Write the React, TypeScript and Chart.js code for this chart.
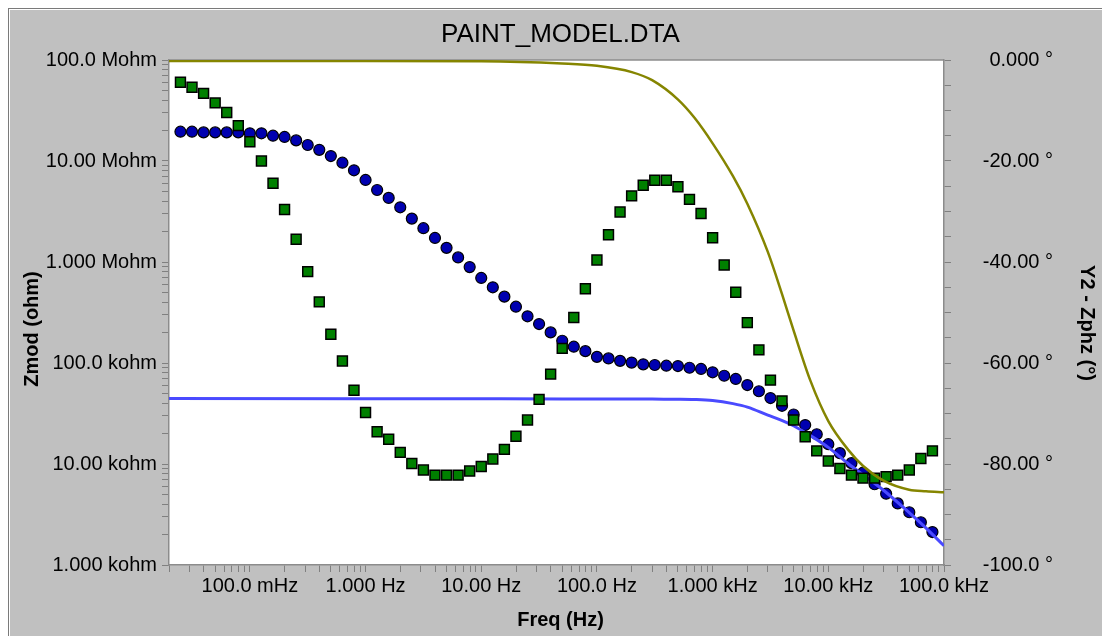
import React, { useEffect, useRef } from 'react';
import { Chart, registerables } from 'chart.js';

Chart.register(...registerables);

// Measured impedance spectrum (10 points per decade)
const frequencyHz = [
  0.02512, 0.03162, 0.03981, 0.05012, 0.0631, 0.07943,
  0.1, 0.1259, 0.1585, 0.1995, 0.2512, 0.3162, 0.3981, 0.5012, 0.631, 0.7943,
  1, 1.259, 1.585, 1.995, 2.512, 3.162, 3.981, 5.012, 6.31, 7.943,
  10, 12.59, 15.85, 19.95, 25.12, 31.62, 39.81, 50.12, 63.1, 79.43,
  100, 125.9, 158.5, 199.5, 251.2, 316.2, 398.1, 501.2, 631, 794.3,
  1000, 1259, 1585, 1995, 2512, 3162, 3981, 5012, 6310, 7943,
  10000, 12590, 15850, 19950, 25120, 31620, 39810, 50120, 63100, 79430,
];

const zmodOhm = [
  19.5e6, 19.5e6, 19.2e6, 19.2e6, 19.2e6, 19.2e6, 18.8e6, 18.8e6, 17.8e6, 17.3e6,
  16.0e6, 14.4e6, 12.9e6, 11.2e6, 9.62e6, 8.09e6, 6.49e6, 5.16e6, 4.31e6, 3.48e6,
  2.69e6, 2.16e6, 1.73e6, 1.38e6, 1.11e6, 891e3, 695e3, 562e3, 454e3, 361e3,
  290e3, 243e3, 201e3, 166e3, 145e3, 131e3, 115e3, 111e3, 105e3, 101e3,
  97.0e3, 95.5e3, 94.0e3, 93.3e3, 89.7e3, 87.3e3, 80.9e3, 74.8e3, 69.5e3, 60.5e3,
  52.5e3, 45.0e3, 37.7e3, 30.9e3, 24.3e3, 19.7e3, 15.7e3, 12.8e3, 10.2e3, 8.20e3,
  6.30e3, 5.08e3, 4.07e3, 3.33e3, 2.65e3, 2.12e3,
];

const zphzDeg = [
  -4.4, -5.4, -6.6, -8.5, -10.4, -13.0, -16.2, -20.0, -24.4, -29.6,
  -35.5, -41.9, -47.9, -54.3, -59.6, -65.4, -69.8, -73.6, -75.1, -77.7,
  -79.9, -81.2, -82.2, -82.2, -82.2, -81.4, -80.5, -79.0, -77.1, -74.5,
  -71.3, -67.2, -62.2, -57.1, -51.0, -45.3, -39.6, -34.6, -30.1, -26.9,
  -24.8, -23.8, -23.8, -25.1, -27.6, -30.4, -35.2, -40.6, -46.0, -52.0,
  -57.4, -63.4, -67.5, -71.3, -74.6, -77.4, -79.4, -80.9, -82.2, -82.8,
  -82.8, -82.5, -82.2, -81.2, -78.9, -77.4,
];

// Model curves
const fitFrequencyHz = [
  0.02, 1, 10, 50, 100, 200, 300, 500, 700, 1000, 1500, 2000,
  3000, 4000, 5000, 7000, 10000, 15000, 20000, 30000, 50000, 70000, 100000,
];
const fitZmodOhm = [
  44400, 44300, 44200, 44100, 44100, 44000, 43900, 43800, 43500, 42500, 39600, 36600,
  30500, 26900, 23900, 19100, 14600, 10000, 7800, 5500, 3300, 2320, 1550,
];
const fitZphzDeg = [
  -0.2, -0.2, -0.25, -0.7, -1.15, -2.4, -4.0, -7.8, -11.5, -16.5, -23.0, -28.5,
  -38.0, -46.5, -53.5, -63.5, -71.5, -77.3, -80.4, -83.3, -85.1, -85.4, -85.6,
];

// Axis tick labels
const freqTickValues = [0.1, 1, 10, 100, 1000, 10000, 100000];
const freqTickLabels = ['100.0 mHz', '1.000 Hz', '10.00 Hz', '100.0 Hz', '1.000 kHz', '10.00 kHz', '100.0 kHz'];
const zmodTickValues = [1e3, 1e4, 1e5, 1e6, 1e7, 1e8];
const zmodTickLabels = ['1.000 kohm', '10.00 kohm', '100.0 kohm', '1.000 Mohm', '10.00 Mohm', '100.0 Mohm'];
const phaseTickValues = [0, -20, -40, -60, -80, -100];
const phaseTickLabels = ['0.000 °', '-20.00 °', '-40.00 °', '-60.00 °', '-80.00 °', '-100.0 °'];

const FONT = "'Liberation Sans', Arial, Helvetica, sans-serif";

function logTicks(min: number, max: number): number[] {
  const out: number[] = [];
  for (let e = Math.floor(Math.log10(min)); e <= Math.ceil(Math.log10(max)); e++) {
    for (let m = 1; m <= 9; m++) {
      const v = Number((m * Math.pow(10, e)).toPrecision(6));
      if (v >= min * 0.999999 && v <= max * 1.000001) out.push(v);
    }
  }
  return out;
}

function linearTicks(min: number, max: number, step: number): number[] {
  const out: number[] = [];
  for (let v = min; v <= max + 1e-9; v += step) out.push(Math.round(v * 1000) / 1000);
  return out;
}

function labelFor(value: number, values: number[], labels: string[], log: boolean): string {
  const i = values.findIndex((v) =>
    log ? Math.abs(Math.log10(v) - Math.log10(value)) < 1e-6 : Math.abs(v - value) < 1e-6
  );
  return i >= 0 ? labels[i] : '';
}

const tickFont = { family: FONT, size: 20 };
const gridOpts = {
  display: true,
  drawOnChartArea: false,
  drawTicks: true,
  tickLength: 7,
  color: '#808080',
  lineWidth: 1,
};
const borderOpts = { display: true, color: '#8c8c8c', width: 1.5 };

const decorations = {
  id: 'decorations',
  beforeDraw(chart: any) {
    const { ctx, chartArea: a } = chart;
    ctx.save();
    ctx.fillStyle = '#ffffff';
    ctx.fillRect(a.left, a.top, a.right - a.left, a.bottom - a.top);
    ctx.restore();
  },
  beforeDatasetsDraw(chart: any) {
    const { ctx, chartArea: a } = chart;
    ctx.save();
    ctx.strokeStyle = '#8c8c8c';
    ctx.lineWidth = 1.5;
    ctx.beginPath();
    ctx.moveTo(a.left, a.top);
    ctx.lineTo(a.right, a.top);
    ctx.stroke();
    ctx.restore();
  },
  afterDraw(chart: any) {
    const { ctx, chartArea: a } = chart;
    const cx = (a.left + a.right) / 2;
    ctx.save();
    ctx.fillStyle = '#000';
    ctx.textAlign = 'center';
    ctx.textBaseline = 'middle';

    ctx.font = `26px ${FONT}`;
    ctx.fillText('PAINT_MODEL.DTA', cx + 4, 35);

    ctx.font = `bold 20px ${FONT}`;
    ctx.fillText('Freq (Hz)', cx + 4, 620);

    ctx.save();
    ctx.translate(32, 329);
    ctx.rotate(-Math.PI / 2);
    ctx.fillText('Zmod (ohm)', 0, 0);
    ctx.restore();

    ctx.save();
    ctx.translate(1087, 323);
    ctx.rotate(Math.PI / 2);
    ctx.fillText('Y2 - Zphz (°)', 0, 0);
    ctx.restore();

    ctx.restore();
  },
};

export default function App() {
  const canvasRef = useRef<HTMLCanvasElement>(null);

  useEffect(() => {
    const canvas = canvasRef.current;
    if (!canvas) return;

    const chart = new Chart(canvas, {
      type: 'line',
      data: {
        datasets: [
          {
            label: 'Zphz fit',
            data: fitFrequencyHz.map((f, i) => ({ x: f, y: fitZphzDeg[i] })),
            yAxisID: 'y2',
            borderColor: '#858500',
            borderWidth: 2.5,
            pointRadius: 0,
            cubicInterpolationMode: 'monotone',
            order: 0,
          },
          {
            label: 'Zphz',
            data: frequencyHz.map((f, i) => ({ x: f, y: zphzDeg[i] })),
            yAxisID: 'y2',
            showLine: false,
            pointStyle: 'rect',
            pointRadius: 7,
            pointBackgroundColor: '#008000',
            pointBorderColor: '#000000',
            pointBorderWidth: 1.5,
            order: 1,
          },
          {
            label: 'Zmod fit',
            data: fitFrequencyHz.map((f, i) => ({ x: f, y: fitZmodOhm[i] })),
            yAxisID: 'y',
            borderColor: '#4a4aff',
            borderWidth: 3,
            pointRadius: 0,
            cubicInterpolationMode: 'monotone',
            order: 2,
          },
          {
            label: 'Zmod',
            data: frequencyHz.map((f, i) => ({ x: f, y: zmodOhm[i] })),
            yAxisID: 'y',
            showLine: false,
            pointStyle: 'circle',
            pointRadius: 5.5,
            pointBackgroundColor: '#0000b0',
            pointBorderColor: '#000000',
            pointBorderWidth: 1.2,
            order: 3,
          },
        ],
      },
      options: {
        responsive: false,
        animation: false,
        events: [],
        layout: { padding: { top: 60, left: 0, right: 49, bottom: 0 } },
        plugins: {
          legend: { display: false },
          tooltip: { enabled: false },
          title: { display: false },
        },
        scales: {
          x: {
            type: 'logarithmic',
            position: 'bottom',
            min: 0.02,
            max: 1e5,
            afterBuildTicks: (s: any) => {
              s.ticks = logTicks(0.02, 1e5).map((value) => ({ value }));
            },
            afterFit: (s: any) => {
              s.height = 71;
            },
            ticks: {
              autoSkip: false,
              maxRotation: 0,
              minRotation: 0,
              padding: 2,
              color: '#000',
              font: tickFont,
              callback: (v: any) => labelFor(Number(v), freqTickValues, freqTickLabels, true),
            },
            grid: gridOpts,
            border: borderOpts,
          },
          y: {
            type: 'logarithmic',
            position: 'left',
            min: 1e3,
            max: 1e8,
            afterBuildTicks: (s: any) => {
              s.ticks = logTicks(1e3, 1e8).map((value) => ({ value }));
            },
            afterFit: (s: any) => {
              s.width = 169;
            },
            ticks: {
              autoSkip: false,
              padding: 5,
              color: '#000',
              font: tickFont,
              callback: (v: any) => labelFor(Number(v), zmodTickValues, zmodTickLabels, true),
            },
            grid: gridOpts,
            border: borderOpts,
          },
          y2: {
            type: 'linear',
            position: 'right',
            min: -100,
            max: 0,
            afterBuildTicks: (s: any) => {
              s.ticks = linearTicks(-100, 0, 5).map((value) => ({ value }));
            },
            afterFit: (s: any) => {
              s.width = 109;
            },
            ticks: {
              autoSkip: false,
              padding: 4,
              crossAlign: 'far',
              color: '#000',
              font: tickFont,
              callback: (v: any) => labelFor(Number(v), phaseTickValues, phaseTickLabels, false),
            },
            grid: gridOpts,
            border: borderOpts,
          },
        },
      },
      plugins: [decorations],
    } as any);

    return () => chart.destroy();
  }, []);

  return (
    <div
      style={{
        position: 'absolute',
        left: 0,
        top: 0,
        width: 1102,
        height: 636,
        background: '#ffffff',
        overflow: 'hidden',
      }}
    >
      <div
        style={{
          position: 'absolute',
          left: 8,
          top: 8,
          right: 0,
          bottom: 0,
          background: '#c0c0c0',
          borderLeft: '1px solid #7a7a7a',
          borderTop: '1px solid #7a7a7a',
          boxShadow: 'inset 1px 1px 0 #ffffff',
        }}
      />
      <canvas
        ref={canvasRef}
        width={1102}
        height={636}
        style={{ position: 'absolute', left: 0, top: 0 }}
      />
    </div>
  );
}
